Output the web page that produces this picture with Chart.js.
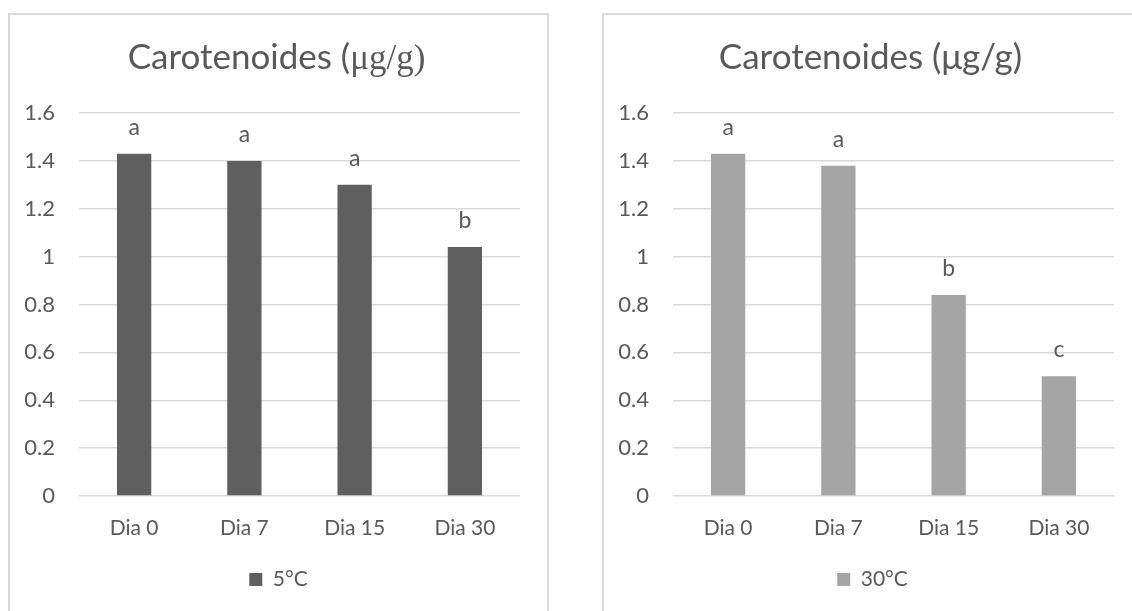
<!DOCTYPE html>
<html>
<head>
<meta charset="utf-8">
<script src="https://cdn.jsdelivr.net/npm/chart.js@4"></script>
<style>
  html, body { margin: 0; padding: 0; background: #fff; overflow: hidden; }
  body { width: 1132px; height: 611px; position: relative; }
  .box { position: absolute; top: 13px; width: 537px; height: 640px; border: 2px solid #d9d9d9; }
  #box5 { left: 8px; }
  #box30 { left: 602px; }
  canvas { position: absolute; left: 0; top: 0; }
</style>
</head>
<body>
<div class="box" id="box5"><canvas id="chart5" width="537" height="596"></canvas></div>
<div class="box" id="box30"><canvas id="chart30" width="537" height="596"></canvas></div>
<script>
// dados
const categories = ['Dia 0', 'Dia 7', 'Dia 15', 'Dia 30'];
const values5 = [1.43, 1.40, 1.30, 1.04];
const values30 = [1.43, 1.38, 0.84, 0.50];
const letters5 = ['a', 'a', 'a', 'b'];
const letters30 = ['a', 'a', 'b', 'c'];
const yMin = 0, yMax = 1.6, yStep = 0.2;

const textColor = '#595959';
const sans = 'Lato, "Open Sans", sans-serif';
const serif = '"Liberation Serif", "DejaVu Serif", serif';

// titulo com partes em fontes diferentes
const titlePlugin = {
  id: 'titlePlugin',
  afterDraw(chart, args, opts) {
    const ctx = chart.ctx;
    ctx.save();
    ctx.fillStyle = textColor;
    ctx.textBaseline = 'alphabetic';
    let total = 0;
    opts.parts.forEach(p => {
      ctx.font = opts.size + 'px ' + p[1];
      total += ctx.measureText(p[0]).width;
    });
    let x = chart.width / 2 - total / 2 - 2;
    opts.parts.forEach(p => {
      ctx.font = opts.size + 'px ' + p[1];
      ctx.fillText(p[0], x, opts.y);
      x += ctx.measureText(p[0]).width;
    });
    ctx.restore();
  }
};

// letras de significância acima das barras
const lettersPlugin = {
  id: 'lettersPlugin',
  afterDatasetsDraw(chart, args, opts) {
    const ctx = chart.ctx;
    ctx.save();
    ctx.fillStyle = textColor;
    ctx.font = '23px ' + sans;
    ctx.textAlign = 'center';
    ctx.textBaseline = 'alphabetic';
    chart.getDatasetMeta(0).data.forEach((bar, i) => {
      ctx.fillText(opts.letters[i], bar.x, bar.y - 19);
    });
    ctx.restore();
  }
};

function makeChart(id, label, values, letters, color, titleParts) {
  const ctx = document.getElementById(id).getContext('2d');
  return new Chart(ctx, {
    type: 'bar',
    data: {
      labels: categories,
      datasets: [{
        label: label,
        data: values,
        backgroundColor: color,
        borderWidth: 0,
        barPercentage: 0.311,
        categoryPercentage: 1
      }]
    },
    plugins: [titlePlugin, lettersPlugin],
    options: {
      responsive: false,
      animation: false,
      layout: { padding: { top: 98, right: 0, bottom: 11, left: 0 } },
      plugins: {
        tooltip: { enabled: false },
        titlePlugin: { parts: titleParts, size: 35, y: 54 },
        lettersPlugin: { letters: letters },
        legend: {
          position: 'bottom',
          labels: {
            boxWidth: 13,
            boxHeight: 13,
            padding: 10,
            color: textColor,
            font: { family: sans, size: 21 }
          }
        }
      },
      scales: {
        x: {
          grid: { display: false },
          border: { display: false },
          ticks: { color: textColor, font: { family: sans, size: 21 }, padding: 12 },
          afterFit: s => { s.height = 63; }
        },
        y: {
          min: yMin,
          max: yMax,
          grid: { color: '#d9d9d9', lineWidth: 1.5, drawTicks: false },
          border: { display: false },
          ticks: {
            stepSize: yStep,
            padding: 24,
            color: textColor,
            font: { family: sans, size: 22 },
            callback: v => String(+v.toFixed(1))
          },
          afterFit: s => { s.width = 69; }
        },
        // eixo vazio à direita só para a margem, assim a legenda fica centrada
        yRight: {
          position: 'right',
          grid: { display: false },
          border: { display: false },
          ticks: { display: false },
          afterFit: s => { s.width = 27; }
        }
      }
    }
  });
}

makeChart('chart5', '5°C', values5, letters5, '#5f5f5f',
  [['Carotenoides (', sans], ['μg/g)', serif]]);
makeChart('chart30', '30°C', values30, letters30, '#a5a5a5',
  [['Carotenoides (μg/g)', sans]]);
</script>
</body>
</html>
